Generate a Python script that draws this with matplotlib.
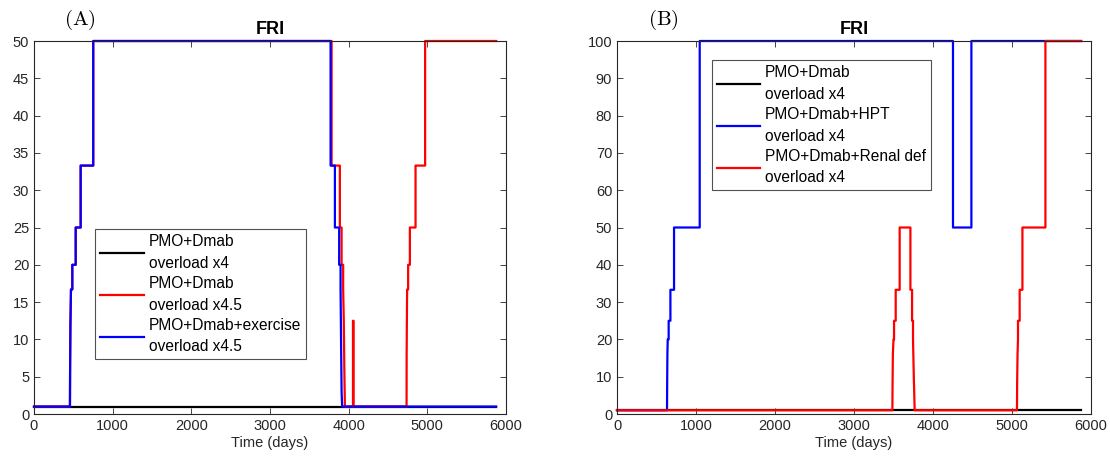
#!/usr/bin/env python3
"""plot.py: FRI over time, two panels (A) and (B)"""

import matplotlib

matplotlib.use("Agg")
import matplotlib.pyplot as plt

plt.rcParams["font.family"] = ["Liberation Sans", "DejaVu Sans"]
plt.rcParams["mathtext.fontset"] = "cm"

# panel A: FRI series (time in days, FRI value)
a_black_t = [0, 5875]
a_black_v = [1, 1]

a_red_t = [0, 457, 459, 463, 470, 487, 487, 530, 530, 593, 593, 753, 753,
           3783, 3783, 3888, 3888, 3910, 3910, 3930, 3930, 3938, 3945, 3952,
           4055, 4055, 4062, 4062,
           4736, 4737, 4740, 4743, 4756, 4756, 4778, 4778, 4850, 4850, 4972,
           4972, 5875]
a_red_v = [1, 1, 6, 12, 16.7, 16.7, 20, 20, 25, 25, 33.3, 33.3, 50,
           50, 33.3, 33.3, 25, 25, 20, 20, 16.7, 12.5, 6, 1,
           1, 12.5, 12.5, 1,
           1, 8, 12.5, 16.7, 16.7, 20, 20, 25, 25, 33.3, 33.3,
           50, 50]

a_blue_t = [0, 457, 459, 463, 470, 487, 487, 530, 530, 593, 593, 753, 753,
            3770, 3770, 3825, 3825, 3879, 3879, 3897, 3897, 3905, 3910, 3917,
            5875]
a_blue_v = [1, 1, 6, 12, 16.7, 16.7, 20, 20, 25, 25, 33.3, 33.3, 50,
            50, 33.3, 33.3, 25, 25, 20, 20, 16.7, 8, 3, 1,
            1]

a_labels = ["PMO+Dmab\noverload x4", "PMO+Dmab\noverload x4.5",
            "PMO+Dmab+exercise\noverload x4.5"]

# panel B
b_black_t = [0, 5875]
b_black_v = [1, 1]

b_blue_t = [0, 633, 635, 638, 642, 654, 654, 676, 676, 722, 722, 1047,
            1047, 4253, 4253, 4486, 4486, 5875]
b_blue_v = [1, 1, 8, 16, 20, 20, 25, 25, 33.3, 33.3, 50, 50,
            100, 100, 50, 50, 100, 100]

b_red_t = [0, 3486, 3488, 3492, 3500, 3507, 3507, 3528, 3528, 3578, 3578,
           3714, 3714, 3735, 3735, 3747, 3747, 3757, 3768,
           5063, 5065, 5070, 5076, 5076, 5097, 5097, 5132, 5132, 5423, 5423,
           5875]
b_red_v = [1, 1, 8, 16, 20, 20, 25, 25, 33.3, 33.3, 50,
           50, 33.3, 33.3, 25, 25, 20, 10, 1,
           1, 8, 16, 20, 25, 25, 33.3, 33.3, 50, 50, 100,
           100]

b_labels = ["PMO+Dmab\noverload x4", "PMO+Dmab+HPT\noverload x4",
            "PMO+Dmab+Renal def\noverload x4"]

INK = "#262626"


def style_axes(ax, ymax, ystep):
    """style_axes: MATLAB-like box with inward ticks"""
    ax.set_xlim(0, 6000)
    ax.set_ylim(0, ymax)
    ax.set_xticks(range(0, 6001, 1000))
    ax.set_yticks(range(0, ymax + 1, ystep))
    ax.tick_params(direction="in", top=True, right=True, labelsize=10.5,
                   colors=INK, length=4, width=0.6)
    for s in ax.spines.values():
        s.set_color(INK)
        s.set_linewidth(0.8)
    ax.set_xlabel("Time (days)", fontsize=10.5, color=INK, labelpad=2)
    ax.set_title("FRI", fontsize=13, fontweight="bold", pad=5)


def add_legend(ax, lines, labels, bbox):
    leg = ax.legend(lines, labels, loc="upper left", bbox_to_anchor=bbox,
                    fontsize=11.2, frameon=True, fancybox=False,
                    handlelength=2.8, handletextpad=0.3, labelspacing=0.33,
                    borderpad=0.32, borderaxespad=0.0)
    leg.get_frame().set_edgecolor(INK)
    leg.get_frame().set_linewidth(0.8)
    for t in leg.get_texts():
        t.set_linespacing(1.55)
    return leg


fig = plt.figure(figsize=(11.1, 4.63), dpi=100)
ax1 = fig.add_axes([34 / 1110, 49 / 463, 472 / 1110, 373 / 463])
ax2 = fig.add_axes([617 / 1110, 49 / 463, 474 / 1110, 373 / 463])

lw = 1.6
l1 = ax1.plot(a_black_t, a_black_v, color="black", lw=lw, clip_on=False)[0]
l2 = ax1.plot(a_red_t, a_red_v, color="red", lw=lw, clip_on=False)[0]
l3 = ax1.plot(a_blue_t, a_blue_v, color="blue", lw=lw, clip_on=False)[0]
style_axes(ax1, 50, 5)
add_legend(ax1, [l1, l2, l3], a_labels, (0.13, 0.495))

m1 = ax2.plot(b_black_t, b_black_v, color="black", lw=lw, clip_on=False)[0]
m2 = ax2.plot(b_blue_t, b_blue_v, color="blue", lw=lw, clip_on=False)[0]
m3 = ax2.plot(b_red_t, b_red_v, color="red", lw=lw, clip_on=False)[0]
style_axes(ax2, 100, 10)
add_legend(ax2, [m1, m2, m3], b_labels, (0.2, 0.948))

fig.text(80 / 1110, 1 - 20 / 463, r"$\mathrm{(A)}$", fontsize=15,
         ha="center", va="center")
fig.text(663 / 1110, 1 - 20 / 463, r"$\mathrm{(B)}$", fontsize=15,
         ha="center", va="center")

fig.savefig("out.png", dpi=100)
